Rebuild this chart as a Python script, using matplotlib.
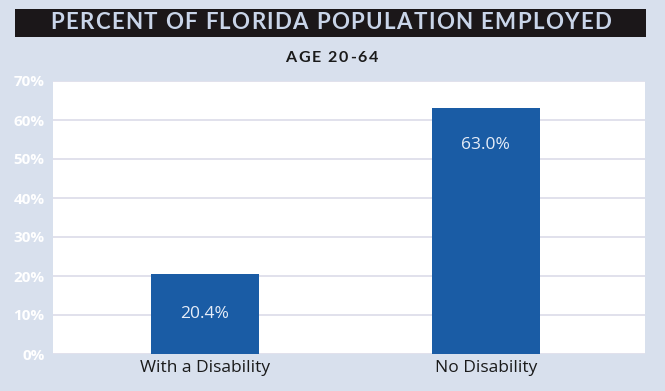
import matplotlib as mpl
from matplotlib import pyplot as plt
import matplotlib.ticker as ticker
from matplotlib.patches import Rectangle

categories = ["With a Disability", "No Disability"]
employed = [20.4, 63.0]
yticks = [0, 10, 20, 30, 40, 50, 60, 70]

bg = "#d8e0ed"
bar_color = "#1a5ca5"

W, H = 665, 391
fig = plt.figure(figsize=(W / 100, H / 100), dpi=100, facecolor=bg)
renderer = fig.canvas.get_renderer()


#width in pixels of a string, trailing spaces included
def text_width(s, **kw):
    t = fig.text(0, 0, s + "|", **kw)
    r = fig.text(0, 0, "|", **kw)
    w = t.get_window_extent(renderer).width - r.get_window_extent(renderer).width
    t.remove()
    r.remove()
    return w


#draw a string letter by letter so it spans a given pixel width (letter spacing)
def tracked_text(s, xc, yc, width, **kw):
    natural = text_width(s, **kw)
    spacing = (width - natural) / (len(s) - 1)
    x0 = xc - width / 2.0
    for i, ch in enumerate(s):
        xi = x0 + text_width(s[:i], **kw) + i * spacing
        fig.text(xi / W, 1 - yc / H, ch, ha="left", va="center", **kw)


# title banner
fig.patches.append(Rectangle((15 / W, 1 - 36.5 / H), 631 / W, 27.5 / H, transform=fig.transFigure,
                             facecolor="#1b1719", edgecolor="none"))
tracked_text("PERCENT OF FLORIDA POPULATION EMPLOYED", 330.5, 22.5, 561,
             color="#c9d5e9", fontsize=16, family="Lato", fontweight="bold")
tracked_text("AGE 20-64", 331.5, 57.5, 93,
             color="#1a1a1a", fontsize=11.5, family="Lato", fontweight="bold")

ax = fig.add_axes([53 / W, 37 / H, 592 / W, 273 / H])
ax.set_facecolor("white")
x = range(len(categories))
bars = ax.bar(x, employed, width=0.385, color=bar_color, zorder=3)
ax.set_ylim(0, 70)
ax.set_xlim(-0.54, 1.566)
ax.set_yticks(yticks)
ax.yaxis.set_major_formatter(ticker.FuncFormatter(lambda v, p: "%d%%" % v))
ax.grid(axis="y", color="#dcdce9", linewidth=1.2, zorder=0)
for s in ax.spines.values():
    s.set_visible(False)
ax.tick_params(length=0)
ax.tick_params(axis="y", colors="white", labelsize=11, pad=6)
for lbl in ax.get_yticklabels():
    lbl.set_fontweight("bold")
    lbl.set_family("Open Sans")
ax.set_xticks(list(x))
ax.set_xticklabels(categories, fontsize=12.5, color="#1a1a1a", family="Open Sans")
ax.tick_params(axis="x", pad=4)

for i, v in enumerate(employed):
    ax.text(i, v - 9.5 if v > 30 else v / 2, "%.1f%%" % v, ha="center", va="center",
            color="#e6edf8", fontsize=12.5, family="Open Sans", zorder=4)

fig.savefig("out.png", dpi=100, facecolor=bg)
